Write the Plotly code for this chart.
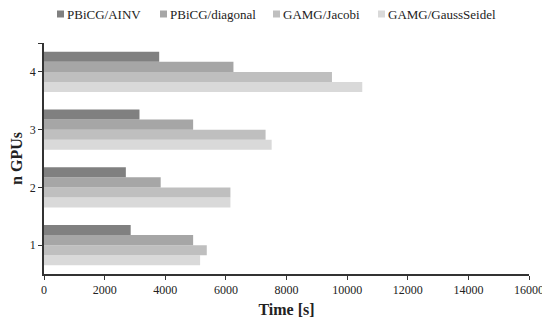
import plotly.graph_objects as go

categories = ["1", "2", "3", "4"]
series_names = ["PBiCG/AINV", "PBiCG/diagonal", "GAMG/Jacobi", "GAMG/GaussSeidel"]
ainv = [2860, 2700, 3150, 3800]
diagonal = [4920, 3850, 4920, 6250]
jacobi = [5370, 6150, 7310, 9500]
gauss = [5150, 6150, 7510, 10500]
x_ticks = [0, 2000, 4000, 6000, 8000, 10000, 12000, 14000, 16000]

values = [ainv, diagonal, jacobi, gauss]
colors = ["#808080", "#a6a6a6", "#bfbfbf", "#d9d9d9"]
y_pos = [int(c) for c in categories]

fig = go.Figure()
# add in reverse so the first series sits on top within each group
for name, vals, col in reversed(list(zip(series_names, values, colors))):
    fig.add_trace(go.Bar(y=y_pos, x=vals, name=name, orientation="h", showlegend=False,
                         marker=dict(color=col, line=dict(width=0))))

font = "Times New Roman, Liberation Serif, serif"

# compact legend drawn as shapes + text (plot area: left 44px, width 485px, top 43px, height 231px)
PL, PW, PT, PH = 44, 485, 43, 231
legend_left_px = [57, 160, 273, 378]
for name, col, lx in zip(series_names, colors, legend_left_px):
    fig.add_shape(type="rect", xref="paper", yref="paper",
                  x0=(lx - PL) / PW, x1=(lx + 7 - PL) / PW,
                  y0=1 + (PT - 17.5) / PH, y1=1 + (PT - 10.5) / PH,
                  fillcolor=col, line=dict(width=0))
    fig.add_annotation(text=name, xref="paper", yref="paper",
                       x=(lx + 8.5 - PL) / PW, y=1 + (PT - 14.5) / PH,
                       xanchor="left", yanchor="middle", showarrow=False, borderpad=0,
                       font=dict(family=font, size=13, color="#222"))

fig.update_layout(
    width=542, height=318,
    barmode="group", bargap=0.3, bargroupgap=0,
    plot_bgcolor="white", paper_bgcolor="white",
    margin=dict(l=36, r=21, t=35, b=52, autoexpand=False),
    font=dict(family=font, size=12, color="#222"),
    showlegend=False,
    xaxis=dict(range=[0, 16000], tickvals=x_ticks, ticktext=[str(v) for v in x_ticks],
               showgrid=False, zeroline=False, automargin=False, ticklabeloverflow="allow",
               showline=True, linecolor="#333", linewidth=1.5,
               ticks="outside", ticklen=4, tickcolor="#333",
               tickfont=dict(family=font, size=12),
               title=dict(text="<b>Time [s]</b>", font=dict(family=font, size=16), standoff=8)),
    yaxis=dict(range=[0.5, 4.5], tickvals=y_pos + [4.5], ticktext=categories + [""],
               showgrid=False, zeroline=False, automargin=False,
               showline=True, linecolor="#333", linewidth=1.5,
               ticks="outside", ticklen=4, tickcolor="#333",
               tickfont=dict(family=font, size=12),
               title=dict(text="<b>n GPUs</b>", font=dict(family=font, size=16), standoff=10)),
)
fig.write_html("out.html")
